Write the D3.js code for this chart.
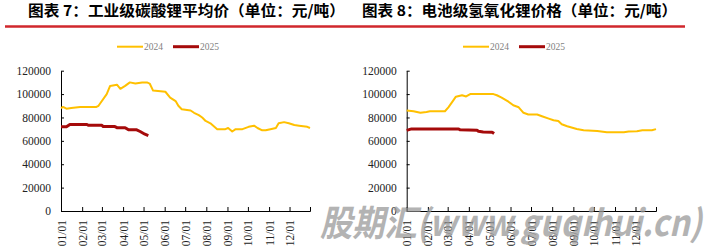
<!DOCTYPE html>
<html>
<head>
<meta charset="utf-8">
<script src="https://cdn.jsdelivr.net/npm/d3@7"></script>
<style>
  body { margin: 0; background: #fff; }
  svg { display: block; }
</style>
</head>
<body>
<div id="chart"></div>
<script>
// data (MM/DD on a common year)
let monthTicks = ["01/01", "02/01", "03/01", "04/01", "05/01", "06/01", "07/01", "08/01", "09/01", "10/01", "11/01", "12/01"];
let seriesNames = ["2024", "2025"];
let yTicks = [0, 20000, 40000, 60000, 80000, 100000, 120000];

// chart 7: industrial grade lithium carbonate
let dates7_2024 = ["01/01", "01/04", "01/09", "01/16", "01/29", "02/22", "02/25", "03/08", "03/13", "03/23", "03/28", "04/04", "04/11", "04/19", "04/29", "05/06", "05/10", "05/15", "06/02", "06/09", "06/17", "06/21", "06/26", "07/09", "07/14", "07/21", "07/26", "07/31", "08/07", "08/17", "08/29", "09/02", "09/08", "09/13", "09/23", "10/02", "10/10", "10/15", "10/22", "10/27", "11/03", "11/11", "11/15", "11/23", "11/30", "12/08", "12/15", "12/27", "12/31"];
let vals7_2024 = [88000, 89000, 87500, 88000, 89000, 89000, 90000, 100000, 107000, 108000, 104500, 107000, 110000, 109000, 110000, 110000, 109000, 103000, 102000, 97000, 94000, 90000, 87000, 86000, 84000, 82000, 80000, 77000, 75000, 70000, 70000, 71000, 68000, 70000, 70000, 72000, 73000, 71000, 69000, 69000, 70000, 71000, 75000, 76000, 75000, 73500, 73000, 72000, 71000];
let dates7_2025 = ["01/01", "01/09", "01/14", "02/08", "02/10", "03/01", "03/03", "03/20", "03/23", "04/04", "04/09", "04/21", "04/26", "05/03", "05/08"];
let vals7_2025 = [72000, 72000, 74000, 74000, 73300, 73300, 72200, 72200, 71300, 71300, 69400, 69400, 68000, 65700, 64500];

// chart 8: battery grade lithium hydroxide
let dates8_2024 = ["01/01", "01/11", "01/21", "01/30", "02/04", "02/26", "03/02", "03/09", "03/13", "03/22", "03/28", "04/03", "05/07", "05/12", "05/19", "05/29", "06/05", "06/13", "06/20", "06/27", "07/10", "07/17", "07/27", "08/03", "08/10", "08/15", "08/23", "09/06", "09/16", "10/06", "10/20", "11/14", "11/21", "12/03", "12/11", "12/25", "12/31"];
let vals8_2024 = [86000, 85300, 84000, 84700, 85300, 85300, 88700, 94400, 97800, 99000, 98000, 100000, 100000, 99000, 97000, 93500, 90400, 88700, 84000, 82500, 82500, 81000, 79000, 77600, 77000, 74200, 72500, 70200, 69000, 68500, 67400, 67400, 68000, 68200, 69000, 69000, 70000];
let dates8_2025 = ["01/01", "01/08", "03/17", "03/19", "04/13", "04/15", "04/22", "05/05", "05/08"];
let vals8_2025 = [69000, 70200, 70200, 69400, 69000, 68200, 67600, 67400, 66200];

let colors = { "2024": "#FFC000", "2025": "#A50A0A" };

let svgWidth = 720;
let svgHeight = 252;

let svg = d3.select("#chart")
    .append("svg")
    .attr("width", svgWidth)
    .attr("height", svgHeight);

let parseDay = d3.timeParse("%Y/%m/%d");
let toDate = md => parseDay("2024/" + md);

function zipSeries(dates, vals) {
    return dates.map((d, i) => ({ date: toDate(d), value: vals[i] }));
}

let panels = [
    {
        title: "图表 7：工业级碳酸锂平均价（单位：元/吨）",
        titleX: 28, titleW: 317, ruleX0: 5, ruleX1: 360,
        x0: 61, x1: 310, legendX: 117,
        s2024: zipSeries(dates7_2024, vals7_2024),
        s2025: zipSeries(dates7_2025, vals7_2025)
    },
    {
        title: "图表 8：电池级氢氧化锂价格（单位：元/吨）",
        titleX: 362, titleW: 315, ruleX0: 360, ruleX1: 685,
        x0: 406.7, x1: 656, legendX: 463,
        s2024: zipSeries(dates8_2024, vals8_2024),
        s2025: zipSeries(dates8_2025, vals8_2025)
    }
];

let yTop = 70.7;
let yBottom = 211;

panels.forEach(function(p) {
    // title + red rule
    svg.append("text")
        .attr("x", p.titleX)
        .attr("y", 15.5)
        .attr("textLength", p.titleW)
        .attr("lengthAdjust", "spacingAndGlyphs")
        .style("font-family", "'Noto Sans CJK SC', sans-serif")
        .style("font-weight", "bold")
        .style("font-size", "15px")
        .attr("fill", "#000")
        .text(p.title);

    svg.append("line")
        .attr("x1", p.ruleX0).attr("x2", p.ruleX1)
        .attr("y1", 26.5).attr("y2", 26.5)
        .attr("stroke", "#D0272D")
        .attr("stroke-width", 2.5);

    let xScale = d3.scaleTime()
        .domain([toDate("01/01"), toDate("12/31")])
        .range([p.x0, p.x1]);

    let yScale = d3.scaleLinear()
        .domain([0, 120000])
        .range([yBottom, yTop]);

    let leftAxis = d3.axisLeft(yScale)
        .tickValues(yTicks)
        .tickFormat(d3.format("d"))
        .tickSizeInner(-3)
        .tickSizeOuter(0)
        .tickPadding(10);

    let bottomAxis = d3.axisBottom(xScale)
        .tickValues(monthTicks.map(toDate))
        .tickFormat(d3.timeFormat("%m/%d"))
        .tickSizeInner(-4)
        .tickSizeOuter(-4);

    let yaxis = svg.append("g")
        .attr("transform", `translate(${p.x0}, 0)`)
        .call(leftAxis);
    yaxis.selectAll("text")
        .style("font-family", "'Liberation Serif', serif")
        .style("font-size", "11.5px")
        .attr("fill", "#222");

    let xaxis = svg.append("g")
        .attr("transform", `translate(0, ${yBottom})`)
        .call(bottomAxis);
    xaxis.selectAll("text")
        .attr("transform", "rotate(-90)")
        .attr("x", -9)
        .attr("y", 0)
        .attr("dy", "0.35em")
        .attr("text-anchor", "end")
        .style("font-family", "'Liberation Serif', serif")
        .style("font-size", "11.5px")
        .attr("fill", "#222");

    [yaxis, xaxis].forEach(function(ax) {
        ax.selectAll("path, line").attr("stroke", "#000").attr("stroke-width", 1);
    });

    let line = d3.line()
        .x(d => xScale(d.date))
        .y(d => yScale(d.value));

    svg.append("path")
        .datum(p.s2024)
        .attr("fill", "none")
        .attr("stroke", colors["2024"])
        .attr("stroke-width", 2)
        .attr("stroke-linejoin", "round")
        .attr("d", line);

    svg.append("path")
        .datum(p.s2025)
        .attr("fill", "none")
        .attr("stroke", colors["2025"])
        .attr("stroke-width", 3)
        .attr("stroke-linejoin", "round")
        .attr("d", line);

    // legend
    let legend = svg.append("g")
        .attr("transform", `translate(${p.legendX}, 46.7)`);
    seriesNames.forEach(function(name, i) {
        let g = legend.append("g").attr("transform", `translate(${i * 56}, 0)`);
        g.append("line")
            .attr("x1", 0).attr("x2", 26)
            .attr("y1", 0).attr("y2", 0)
            .attr("stroke", colors[name])
            .attr("stroke-width", name === "2025" ? 3 : 2);
        g.append("text")
            .attr("x", 27)
            .attr("y", 0)
            .attr("dy", "0.35em")
            .style("font-family", "'Liberation Serif', serif")
            .style("font-size", "9.5px")
            .attr("fill", "#7f7f7f")
            .text(name);
    });
});

// watermark over the right part of the page
svg.append("text")
    .attr("x", 320)
    .attr("y", 236)
    .attr("textLength", 382)
    .attr("lengthAdjust", "spacingAndGlyphs")
    .style("font-family", "'Noto Sans CJK SC', sans-serif")
    .style("font-weight", "bold")
    .style("font-style", "italic")
    .style("font-size", "36px")
    .attr("fill", "#9a9a9a")
    .attr("opacity", 0.75)
    .text("股期汇(www.guqihui.cn)");
</script>
</body>
</html>
